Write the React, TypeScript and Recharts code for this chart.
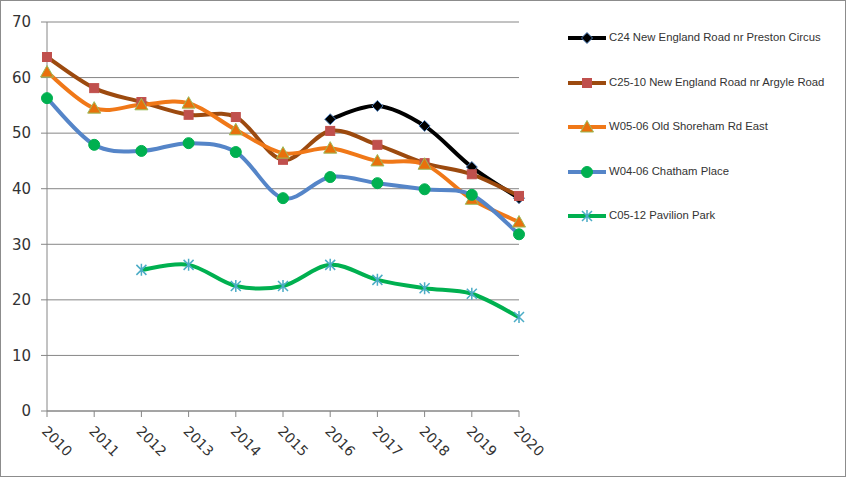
import React from "react";
import { LineChart, Line, XAxis, YAxis, CartesianGrid } from "recharts";

const years = ["2010", "2011", "2012", "2013", "2014", "2015", "2016", "2017", "2018", "2019", "2020"];

const c24 = [null, null, null, null, null, null, 52.5, 54.9, 51.3, 43.9, 38.3];
const c25 = [63.7, 58.1, 55.6, 53.3, 52.9, 45.2, 50.4, 47.9, 44.6, 42.6, 38.7];
const w05 = [61.0, 54.5, 55.1, 55.4, 50.6, 46.4, 47.3, 45.0, 44.4, 38.1, 34.0];
const w04 = [56.3, 47.9, 46.8, 48.2, 46.6, 38.3, 42.1, 41.0, 39.9, 38.9, 31.8];
const c05 = [null, null, 25.4, 26.3, 22.5, 22.5, 26.3, 23.6, 22.1, 21.1, 16.9];

const yTicks = [0, 10, 20, 30, 40, 50, 60, 70];

const seriesNames = [
  "C24 New England Road nr Preston Circus",
  "C25-10 New England Road nr Argyle Road",
  "W05-06 Old Shoreham Rd East",
  "W04-06 Chatham Place",
  "C05-12 Pavilion Park",
];

const data = years.map((year, i) => ({
  year,
  c24: c24[i],
  c25: c25[i],
  w05: w05[i],
  w04: w04[i],
  c05: c05[i],
}));

// smoothed line like excel (catmull-rom through the points)
const smoothCurve = (context: any) => {
  let pts: number[][] = [];
  return {
    areaStart() {},
    areaEnd() {},
    lineStart() {
      pts = [];
    },
    point(x: number, y: number) {
      pts.push([+x, +y]);
    },
    lineEnd() {
      const n = pts.length;
      if (!n) return;
      context.moveTo(pts[0][0], pts[0][1]);
      for (let i = 0; i < n - 1; i++) {
        const p0 = pts[Math.max(i - 1, 0)];
        const p1 = pts[i];
        const p2 = pts[i + 1];
        const p3 = pts[Math.min(i + 2, n - 1)];
        context.bezierCurveTo(
          p1[0] + (p2[0] - p0[0]) / 6,
          p1[1] + (p2[1] - p0[1]) / 6,
          p2[0] - (p3[0] - p1[0]) / 6,
          p2[1] - (p3[1] - p1[1]) / 6,
          p2[0],
          p2[1]
        );
      }
    },
  };
};

const Diamond = ({ cx, cy }: any) =>
  cx == null || cy == null ? null : (
    <path d={`M${cx},${cy - 5.5}L${cx + 5.5},${cy}L${cx},${cy + 5.5}L${cx - 5.5},${cy}Z`} fill="#000" stroke="#4f81bd" strokeWidth={1} />
  );

const Square = ({ cx, cy }: any) =>
  cx == null || cy == null ? null : (
    <rect x={cx - 4.5} y={cy - 4.5} width={9} height={9} fill="#c0504d" stroke="#c0504d" />
  );

const Triangle = ({ cx, cy }: any) =>
  cx == null || cy == null ? null : (
    <path d={`M${cx},${cy - 6.5}L${cx + 6.5},${cy + 5}L${cx - 6.5},${cy + 5}Z`} fill="#e8700c" stroke="#9bbb59" strokeWidth={1} />
  );

const Circle = ({ cx, cy }: any) =>
  cx == null || cy == null ? null : <circle cx={cx} cy={cy} r={5.5} fill="#00b050" stroke="#00b050" />;

const Star = ({ cx, cy }: any) =>
  cx == null || cy == null ? null : (
    <path
      d={`M${cx},${cy - 6}L${cx},${cy + 6}M${cx - 5},${cy - 5}L${cx + 5},${cy + 5}M${cx - 5},${cy + 5}L${cx + 5},${cy - 5}`}
      stroke="#4bacc6"
      strokeWidth={1.5}
      fill="none"
    />
  );

const series = [
  { key: "c24", color: "#000000", Dot: Diamond },
  { key: "c25", color: "#9c4a0f", Dot: Square },
  { key: "w05", color: "#f07818", Dot: Triangle },
  { key: "w04", color: "#5585c8", Dot: Circle },
  { key: "c05", color: "#00b050", Dot: Star },
];

const XTick = ({ x, y, payload }: any) => (
  <text
    x={x - 6}
    y={y + 13}
    transform={`rotate(45, ${x - 6}, ${y + 13})`}
    fontSize={15}
    fill="#333333"
    fontFamily="DejaVu Sans, Verdana, sans-serif"
    style={{ fontSize: 14 }}
  >
    {payload.value}
  </text>
);

export default function App() {
  return (
    <div style={{ position: "absolute", left: 0, top: 0, width: 846, height: 477, background: "#fff" }}>
      <div
        style={{
          position: "absolute",
          inset: 0,
          border: "1px solid #8c8c8c",
          boxSizing: "border-box",
          pointerEvents: "none",
          zIndex: 2,
        }}
      />
      <LineChart
        width={846}
        height={477}
        data={data}
        margin={{ top: 22, right: 327, bottom: 0, left: 7 }}
        style={{ fontFamily: "DejaVu Sans, Verdana, sans-serif" }}
      >
        <CartesianGrid vertical={false} stroke="#868686" strokeWidth={1} />
        <XAxis
          dataKey="year"
          height={66}
          padding={{ left: 0, right: 0 }}
          stroke="#868686"
          tickSize={6}
          tick={<XTick />}
          interval={0}
        />
        <YAxis
          width={40}
          domain={[0, 70]}
          ticks={yTicks}
          stroke="#868686"
          tickSize={6}
          tickMargin={10}
          tick={{ fontSize: 15, fill: "#333333" }}
        />
        {series.map((s) => (
          <Line
            key={s.key}
            dataKey={s.key}
            type={smoothCurve as any}
            stroke={s.color}
            strokeWidth={4}
            dot={<s.Dot />}
            activeDot={false}
            isAnimationActive={false}
          />
        ))}
      </LineChart>
      <div style={{ position: "absolute", left: 566, top: 0, fontFamily: "Liberation Sans, Arial, sans-serif" }}>
        {series.map((s, i) => (
          <div
            key={s.key}
            style={{ position: "absolute", top: 38 + i * 44.5 - 10, left: 0, height: 20, whiteSpace: "nowrap" }}
          >
            <svg width={42} height={20} style={{ position: "absolute", left: 0, top: 0 }}>
              <line x1={2} y1={10} x2={40} y2={10} stroke={s.color} strokeWidth={4} />
              <s.Dot cx={21} cy={10} />
            </svg>
            <span style={{ position: "absolute", left: 43, top: 3, fontSize: 11.3, color: "#333333" }}>
              {seriesNames[i]}
            </span>
          </div>
        ))}
      </div>
    </div>
  );
}
